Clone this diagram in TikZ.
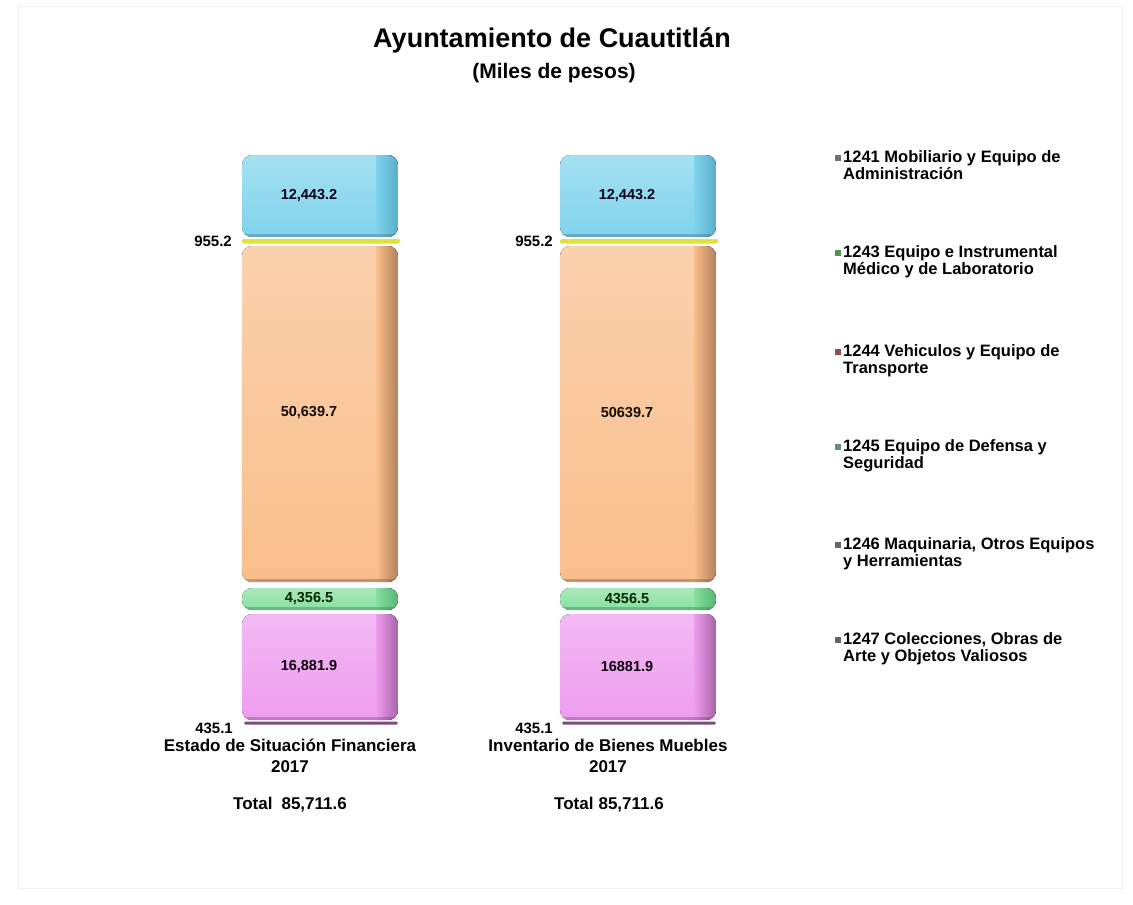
\documentclass[tikz,border=0pt]{standalone}
\usepackage{fontspec}
\setmainfont{Liberation Sans}
\begin{document}
\begin{tikzpicture}[x=1pt,y=-1pt,
  val/.style={font=\bfseries\fontsize{14.5}{17}\selectfont, inner sep=0pt},
  small/.style={font=\bfseries\fontsize{15}{17}\selectfont, inner sep=0pt},
  cat/.style={font=\bfseries\fontsize{17}{21}\selectfont, align=center, inner sep=0pt},
  leg/.style={font=\bfseries\fontsize{16.5}{17.5}\selectfont, align=left, anchor=north west, inner sep=0pt},
  legmark/.style={inner sep=0pt, minimum size=6pt}]
\useasboundingbox (0,0) rectangle (1133,905);
\fill[white] (0,0) rectangle (1133,905);
\draw[black!5, line width=1pt] (18,6) rectangle (1122,888);
\definecolor{cblue}{HTML}{7FD3EC}
\definecolor{cblued}{HTML}{58AECB}
\definecolor{cyel}{HTML}{E4E03A}
\definecolor{corg}{HTML}{F9BE8B}
\definecolor{corgd}{HTML}{B4825A}
\definecolor{cgrn}{HTML}{86E0A0}
\definecolor{cgrnd}{HTML}{58B574}
\definecolor{cpnk}{HTML}{EE9CEE}
\definecolor{cpnkd}{HTML}{A864A8}
\definecolor{cpur}{HTML}{7B4C7C}
% segment macro
\newcommand{\seg}[6]{%
  \begin{scope}
    \path[clip, rounded corners=#5] (#1,#2) rectangle (#3,#4);
    \fill[top color=#6!70!white, bottom color=#6] (#1,#2) rectangle (#3,#4);
    \fill[left color=#6, right color=#6d] ({#3-22},#2) rectangle (#3,#4);
    \fill[#6d!60!black, opacity=0.35] (#1,{#4-3}) rectangle (#3,#4);
  \end{scope}}
\foreach \xo in {0,318}{
  \begin{scope}[xshift=\xo]
    \seg{242}{155}{398}{237}{10}{cblue}
    \fill[cyel, rounded corners=2] (242,239) rectangle (400,243.5);
    \seg{242}{246}{398}{582}{10}{corg}
    \seg{242}{588}{398}{610}{10}{cgrn}
    \seg{242}{614}{398}{720}{10}{cpnk}
    \fill[cpur, rounded corners=1.5] (244,721.5) rectangle (398,724.5);
  \end{scope}}
% values left
\node[val, text=black!90!blue] (a1) at (309,196) {12,443.2};
\node[val, text=black!90!brown] (a3) at (309,413) {50,639.7};
\node[val, text=black!85!green] (a4) at (309,599) {4,356.5};
\node[val, text=black!90!violet] (a5) at (309,667) {16,881.9};
\node[small, anchor=east] (a2) at (232,241) {955.2};
\node[small, anchor=east] (a6) at (233,728) {435.1};
% values right
\node[val, text=black!90!blue] (b1) at (627,196) {12,443.2};
\node[val, text=black!90!brown] (b3) at (627,413) {50639.7};
\node[val, text=black!85!green] (b4) at (627,599) {4356.5};
\node[val, text=black!90!violet] (b5) at (627,667) {16881.9};
\node[small, anchor=east] (b2) at (553,241) {955.2};
\node[small, anchor=east] (b6) at (553,728) {435.1};
% categories
\node[cat] (ca) at (290,756) {Estado de Situación Financiera\\2017};
\node[cat] (ta) at (290,805) {Total\hspace{9pt}85,711.6};
\node[cat] (cb) at (608,756) {Inventario de Bienes Muebles\\2017};
\node[cat] (tb) at (609,805) {Total\hspace{5pt}85,711.6};
% title
\node[font=\bfseries\fontsize{27}{31}\selectfont, inner sep=0pt] (t1) at (552,40) {Ayuntamiento de Cuautitlán};
\node[font=\bfseries\fontsize{21}{25}\selectfont, inner sep=0pt] (t2) at (554,73) {(Miles de pesos)};
% legend
\foreach \yy/\cc/\txt [count=\i] in {
  150/black!55/{1241 Mobiliario y Equipo de\\Administración},
  245/green!40!black!70/{1243 Equipo e Instrumental\\Médico y de Laboratorio},
  344/red!40!black!70/{1244 Vehiculos y Equipo de\\Transporte},
  439/teal!50!black!60/{1245 Equipo de Defensa y\\Seguridad},
  537/black!60/{1246 Maquinaria, Otros Equipos\\y Herramientas},
  632/black!60/{1247 Colecciones, Obras de\\Arte y Objetos Valiosos}}{
  \node[legmark, fill=\cc] (m\i) at (838,{\yy+8}) {};
  \node[leg] (l\i) at (843,\yy) {\txt};
}
\end{tikzpicture}
\end{document}
